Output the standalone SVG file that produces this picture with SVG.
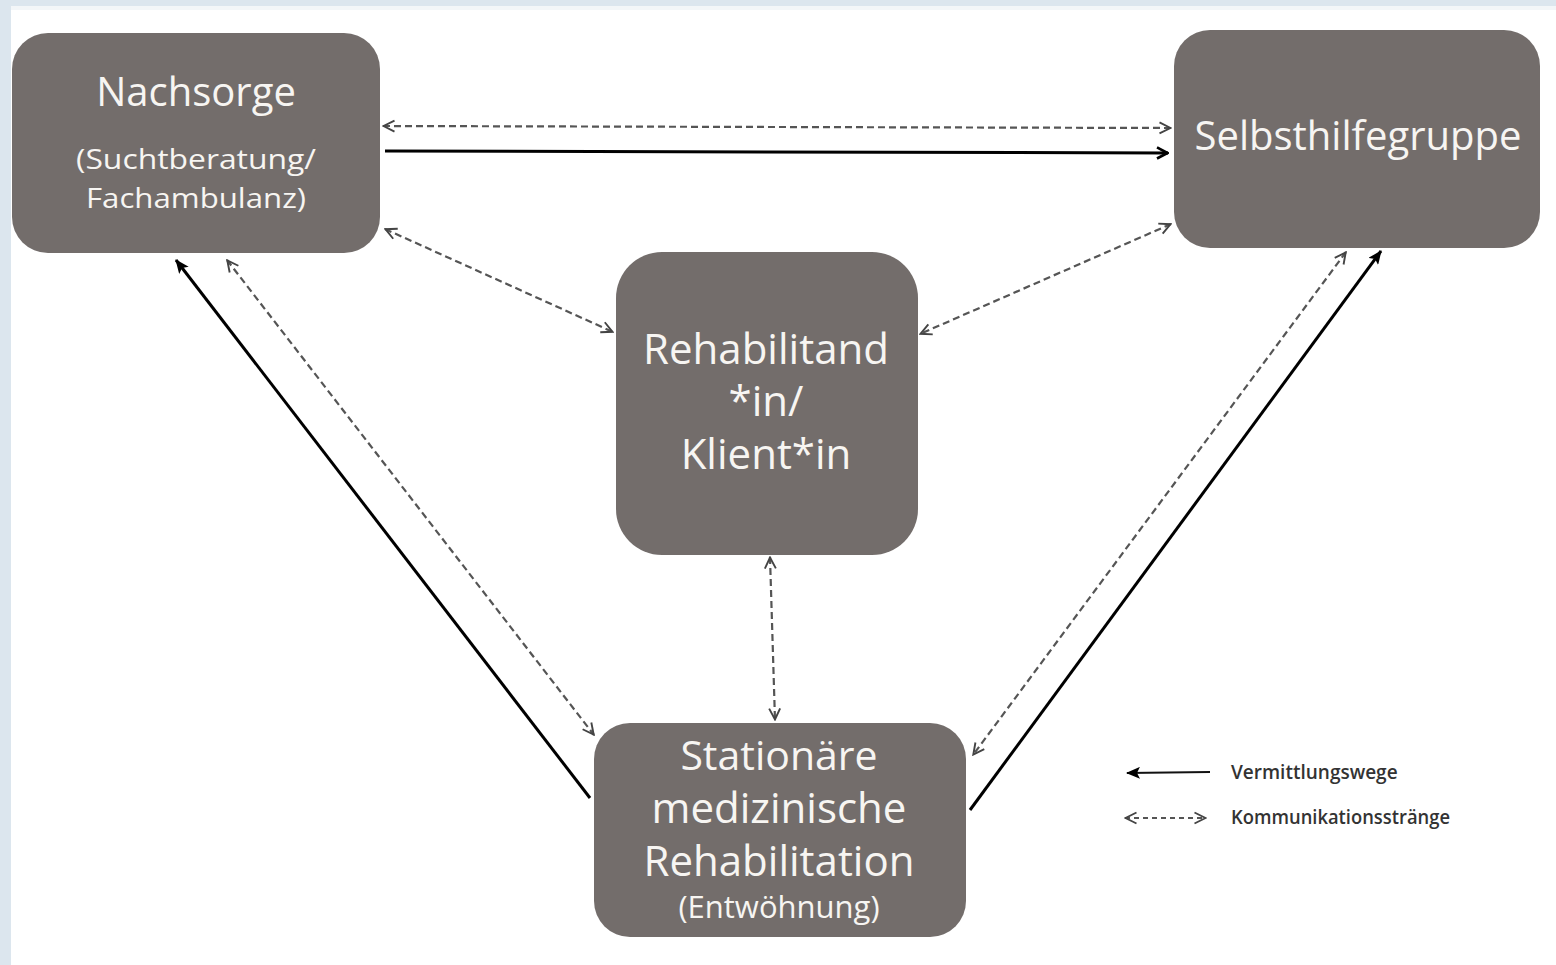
<svg xmlns="http://www.w3.org/2000/svg" width="1556" height="965" viewBox="0 0 1556 965">
<defs>
<style>
.box{fill:#736d6b}
.t{font-family:"Open Sans","Noto Sans",sans-serif;fill:#f7f5f2;text-anchor:middle}
.lg{font-family:"Open Sans","Noto Sans",sans-serif;fill:#333;font-size:19px;font-weight:600}
.dash{fill:none;stroke:#555;stroke-width:2.2;stroke-dasharray:7 4;marker-start:url(#open);marker-end:url(#open)}
.solid{fill:none;stroke:#000;stroke-width:3}
</style>
<marker id="open" viewBox="0 0 14 14" refX="13" refY="7" markerWidth="14" markerHeight="14" markerUnits="userSpaceOnUse" orient="auto-start-reverse">
<polyline points="1.5,1.5 12.5,7 1.5,12.5" fill="none" stroke="#444" stroke-width="1.9"/>
</marker>
<marker id="openBold" viewBox="0 0 14 14" refX="13" refY="7" markerWidth="14" markerHeight="14" markerUnits="userSpaceOnUse" orient="auto">
<polyline points="2,1.5 12.5,7 2,12.5" fill="none" stroke="#000" stroke-width="2.6"/>
</marker>
<marker id="fill" viewBox="0 0 14 12" refX="13" refY="6" markerWidth="14" markerHeight="12" markerUnits="userSpaceOnUse" orient="auto">
<path d="M0,0 L14,6 L0,12 L3,6 Z" fill="#000"/>
</marker>
</defs>
<rect width="1556" height="965" fill="#ffffff"/>
<rect x="0" y="0" width="1556" height="6" fill="#dce6ee"/>
<rect x="0" y="0" width="11" height="965" fill="#dce6ee"/>
<rect x="11" y="6" width="1545" height="4" fill="#f3f6f8"/>

<g id="connectors">
<line class="dash" x1="383" y1="126" x2="1171" y2="128"/>
<line class="solid" x1="385" y1="151" x2="1168" y2="153" marker-end="url(#openBold)"/>
<line class="dash" x1="385" y1="229" x2="613" y2="332"/>
<line class="dash" x1="1171" y1="224" x2="920" y2="334"/>
<line class="solid" x1="590" y1="798" x2="176" y2="260" marker-end="url(#fill)" stroke-width="2.6"/>
<line class="dash" x1="227" y1="260" x2="594" y2="735"/>
<line class="dash" x1="770" y1="557" x2="775" y2="720"/>
<line class="dash" x1="1346" y1="252" x2="973" y2="755"/>
<line class="solid" x1="970" y1="810" x2="1381" y2="251" marker-end="url(#fill)" stroke-width="2.6"/>
</g>

<g id="nachsorge">
<rect class="box" x="12" y="33" width="368" height="220" rx="36"/>
<text class="t" x="196" y="106" font-size="40">Nachsorge</text>
<text class="t" x="196" y="169" font-size="28" textLength="240" lengthAdjust="spacingAndGlyphs">(Suchtberatung/</text>
<text class="t" x="196" y="208" font-size="28" textLength="220" lengthAdjust="spacingAndGlyphs">Fachambulanz)</text>
</g>

<g id="selbsthilfegruppe">
<rect class="box" x="1174" y="30" width="366" height="218" rx="36"/>
<text class="t" x="1358" y="150" font-size="40">Selbsthilfegruppe</text>
</g>

<g id="rehabilitand">
<rect class="box" x="616" y="252" width="302" height="303" rx="46"/>
<text class="t" x="766" y="364" font-size="42">Rehabilitand</text>
<text class="t" x="766" y="416" font-size="42">*in/</text>
<text class="t" x="766" y="469" font-size="42">Klient*in</text>
</g>

<g id="stationaer">
<rect class="box" x="594" y="723" width="372" height="214" rx="36"/>
<text class="t" x="779" y="770" font-size="41">Stationäre</text>
<text class="t" x="779" y="823" font-size="42">medizinische</text>
<text class="t" x="779" y="876" font-size="42">Rehabilitation</text>
<text class="t" x="779" y="918" font-size="31">(Entwöhnung)</text>
</g>

<g id="legend">
<line x1="1210" y1="772" x2="1127" y2="773" stroke="#111" stroke-width="2" marker-end="url(#fill)"/>
<text class="lg" x="1231" y="779">Vermittlungswege</text>
<line x1="1125" y1="818" x2="1206" y2="818" stroke="#555" stroke-width="2" stroke-dasharray="5 4" marker-start="url(#open)" marker-end="url(#open)"/>
<text class="lg" x="1231" y="824" textLength="219" lengthAdjust="spacingAndGlyphs">Kommunikationsstränge</text>
</g>
</svg>
